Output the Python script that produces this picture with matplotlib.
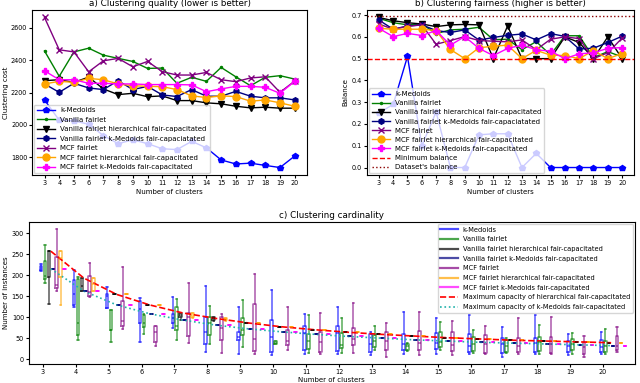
import matplotlib
matplotlib.use('Agg')
import matplotlib.pyplot as plt
from matplotlib.lines import Line2D

ks = list(range(3, 21))

names = ['k-Medoids', 'Vanilla fairlet', 'Vanilla fairlet hierarchical fair-capacitated',
         'Vanilla fairlet k-Medoids fair-capaciatated', 'MCF fairlet',
         'MCF fairlet hierarchical fair-capacitated', 'MCF fairlet k-Medoids fair-capacitated']
colors = ['blue', 'green', 'black', 'navy', 'purple', 'orange', 'magenta']
markers = ['p', '.', 'v', 'h', 'x', 'o', 'P']

# a) clustering cost
cost_kmedoids = [2155, 2030, 2025, 2005, 1935, 1885, 1908, 1885, 1853, 1848, 1899, 1859, 1784, 1759, 1764, 1750, 1737, 1808]
cost_vanilla = [2458, 2301, 2452, 2475, 2432, 2412, 2393, 2350, 2352, 2258, 2295, 2270, 2356, 2298, 2243, 2295, 2305, 2284]
cost_vanilla_hier = [2274, 2280, 2264, 2296, 2223, 2188, 2196, 2175, 2180, 2151, 2151, 2137, 2131, 2116, 2106, 2110, 2104, 2104]
cost_vanilla_kmed = [2254, 2202, 2258, 2229, 2219, 2274, 2219, 2239, 2186, 2176, 2219, 2178, 2178, 2208, 2178, 2168, 2168, 2155]
cost_mcf = [2665, 2465, 2452, 2329, 2397, 2412, 2360, 2393, 2330, 2309, 2309, 2325, 2280, 2268, 2291, 2298, 2202, 2272]
cost_mcf_hier = [2254, 2270, 2264, 2288, 2280, 2254, 2243, 2239, 2237, 2219, 2180, 2170, 2180, 2176, 2147, 2155, 2137, 2116]
cost_mcf_kmed = [2335, 2280, 2280, 2258, 2258, 2254, 2254, 2250, 2250, 2250, 2248, 2206, 2223, 2239, 2239, 2233, 2196, 2270]

# b) balance
bal_kmedoids = [0.25, 0.29, 0.51, 0.10, 0.255, 0.0, 0.0, 0.15, 0.155, 0.155, 0.0, 0.065, 0.0, 0.0, 0.0, 0.0, 0.0, 0.0]
bal_vanilla = [0.685, 0.665, 0.655, 0.659, 0.615, 0.632, 0.635, 0.644, 0.587, 0.589, 0.541, 0.578, 0.517, 0.605, 0.605, 0.505, 0.532, 0.508]
bal_vanilla_hier = [0.689, 0.674, 0.665, 0.659, 0.647, 0.655, 0.657, 0.655, 0.5, 0.65, 0.5, 0.5, 0.5, 0.6, 0.574, 0.5, 0.6, 0.5]
bal_vanilla_kmed = [0.677, 0.635, 0.65, 0.655, 0.629, 0.62, 0.632, 0.585, 0.597, 0.607, 0.613, 0.586, 0.615, 0.602, 0.544, 0.548, 0.574, 0.603]
bal_mcf = [0.659, 0.635, 0.648, 0.655, 0.566, 0.583, 0.601, 0.583, 0.58, 0.577, 0.586, 0.541, 0.589, 0.6, 0.592, 0.5, 0.527, 0.594]
bal_mcf_hier = [0.639, 0.635, 0.635, 0.635, 0.629, 0.542, 0.5, 0.55, 0.557, 0.562, 0.5, 0.538, 0.516, 0.514, 0.5, 0.537, 0.5, 0.523]
bal_mcf_kmed = [0.639, 0.601, 0.616, 0.606, 0.629, 0.562, 0.601, 0.547, 0.514, 0.547, 0.562, 0.541, 0.534, 0.5, 0.522, 0.527, 0.547, 0.551]
min_balance = 0.5
dataset_balance = 0.695

# c) cluster sizes per k: (whisker low, q1, median, q3, whisker high)
card_kmedoids = [(209, 212, 216, 221, 226), (125, 128, 155, 188, 212), (121, 122, 150, 156, 172),
                 (40, 86, 120, 138, 146), (74, 85, 97, 108, 148), (17, 37, 65, 100, 175),
                 (12, 45, 52, 65, 124), (9, 17, 52, 94, 164), (12, 21, 62, 78, 108),
                 (11, 19, 61, 78, 125), (9, 17, 35, 60, 65), (12, 21, 37, 60, 112),
                 (12, 25, 38, 63, 97), (11, 17, 30, 60, 104), (5, 15, 35, 50, 76),
                 (11, 17, 38, 50, 104), (9, 17, 30, 43, 59), (11, 17, 28, 45, 65)]
card_vanilla = [(181, 190, 197, 234, 271), (46, 57, 85, 190, 196), (40, 70, 70, 118, 118),
                (59, 76, 85, 104, 108), (46, 70, 78, 123, 144), (35, 57, 85, 100, 126),
                (29, 57, 70, 98, 140), (35, 36, 38, 42, 42), (15, 25, 42, 60, 104),
                (15, 26, 34, 63, 98), (22, 29, 43, 57, 80), (20, 22, 30, 35, 38),
                (21, 29, 40, 65, 89), (15, 19, 35, 53, 69), (15, 17, 30, 46, 50),
                (13, 19, 40, 53, 82), (13, 21, 35, 48, 63), (13, 17, 30, 43, 71)]
card_vanilla_hier = [(132, 196, 257, 258, 258), (162, 162, 175, 193, 193), (154, 154, 154, 154, 154),
                     (129, 129, 129, 129, 129), (93, 100, 105, 110, 110), (90, 92, 97, 100, 100),
                     (86, 86, 86, 86, 86), (77, 77, 77, 77, 77), (70, 70, 70, 70, 70),
                     (64, 64, 64, 64, 64), (59, 59, 59, 59, 59), (55, 55, 55, 55, 55),
                     (51, 51, 51, 51, 51), (48, 48, 48, 48, 48), (45, 45, 45, 45, 45),
                     (43, 43, 43, 43, 43), (41, 41, 41, 41, 41), (39, 39, 39, 39, 39)]
card_vanilla_kmed = [215, 162, 129, 108, 93, 81, 72, 65, 59, 54, 50, 46, 43, 40, 38, 36, 34, 32]
card_mcf = [(162, 170, 176, 244, 311), (148, 150, 160, 199, 228), (72, 80, 90, 138, 219),
            (30, 40, 65, 79, 80), (38, 54, 100, 110, 182), (14, 45, 75, 100, 108),
            (12, 20, 49, 132, 202), (22, 33, 43, 69, 124), (12, 18, 40, 65, 110),
            (15, 34, 47, 73, 133), (5, 21, 44, 65, 86), (9, 22, 38, 67, 112),
            (9, 20, 33, 65, 90), (11, 15, 35, 57, 80), (11, 17, 30, 50, 97),
            (11, 15, 35, 52, 101), (4, 12, 28, 40, 55), (17, 22, 32, 55, 77)]
card_mcf_hier = [(130, 196, 240, 258, 258), (162, 162, 180, 193, 193), (154, 154, 154, 154, 154),
                 (129, 129, 129, 129, 129), (98, 100, 105, 110, 110), (90, 92, 95, 98, 98),
                 (86, 86, 86, 86, 86), (77, 77, 77, 77, 77), (70, 70, 70, 70, 70),
                 (64, 64, 64, 64, 64), (59, 59, 59, 59, 59), (55, 55, 55, 55, 55),
                 (51, 51, 51, 51, 51), (48, 48, 48, 48, 48), (45, 45, 45, 45, 45),
                 (43, 43, 43, 43, 43), (41, 41, 41, 41, 41), (39, 39, 39, 39, 39)]
card_mcf_kmed = [215, 162, 129, 108, 93, 81, 72, 65, 59, 54, 50, 46, 43, 40, 38, 36, 34, 32]
max_cap_hier = [257, 193, 154, 129, 110, 97, 86, 77, 70, 64, 59, 55, 51, 48, 45, 43, 41, 39]
max_cap_kmed = [215, 162, 129, 108, 93, 81, 72, 65, 59, 54, 50, 46, 43, 40, 38, 36, 34, 32]

TICK = 4.7
LAB = 5.0
TIT = 6.3
LEG = 5.0

fig = plt.figure(figsize=(6.4, 3.83), dpi=100)

# ---- a) cost
ax1 = fig.add_axes([0.05, 0.543, 0.43, 0.431])
costs = [cost_kmedoids, cost_vanilla, cost_vanilla_hier, cost_vanilla_kmed, cost_mcf, cost_mcf_hier, cost_mcf_kmed]
for i in range(7):
    ms = 5 if markers[i] in ('o', 'P') else 4
    if markers[i] == '.':
        ms = 3
    ax1.plot(ks, costs[i], color=colors[i], marker=markers[i], lw=1, ms=ms, label=names[i])
ax1.set_xticks(ks)
ax1.set_yticks([1800, 2000, 2200, 2400, 2600])
ax1.tick_params(labelsize=TICK, length=2, pad=1.5)
ax1.set_title('a) Clustering quality (lower is better)', fontsize=TIT, pad=3)
ax1.set_xlabel('Number of clusters', fontsize=LAB, labelpad=2)
ax1.set_ylabel('Clustering cost', fontsize=LAB, labelpad=1.5)
ax1.legend(loc='lower left', fontsize=LEG, handlelength=2.6, borderaxespad=0.3, labelspacing=0.5)

# ---- b) balance
ax2 = fig.add_axes([0.573, 0.543, 0.418, 0.431])
bals = [bal_kmedoids, bal_vanilla, bal_vanilla_hier, bal_vanilla_kmed, bal_mcf, bal_mcf_hier, bal_mcf_kmed]
for i in range(7):
    ms = 5 if markers[i] in ('o', 'P') else 4
    if markers[i] == '.':
        ms = 3
    ax2.plot(ks, bals[i], color=colors[i], marker=markers[i], lw=1, ms=ms, label=names[i])
ax2.axhline(min_balance, color='red', ls='--', lw=1, label='Minimum balance')
ax2.axhline(dataset_balance, color='darkred', ls=':', lw=1, label="Dataset's balance")
ax2.set_xticks(ks)
ax2.tick_params(labelsize=TICK, length=2, pad=1.5)
ax2.set_title('b) Clustering fairness (higher is better)', fontsize=TIT, pad=3)
ax2.set_xlabel('Number of clusters', fontsize=LAB, labelpad=2)
ax2.set_ylabel('Balance', fontsize=LAB, labelpad=2)
ax2.legend(loc='lower left', fontsize=LEG, handlelength=2.6, borderaxespad=0.3, labelspacing=0.45)

# ---- c) cardinality
ax3 = fig.add_axes([0.045, 0.05, 0.947, 0.37])


def to_stats(rows):
    out = []
    for r in rows:
        if not isinstance(r, tuple):
            r = (r, r, r, r, r)
        out.append({'whislo': r[0], 'q1': r[1], 'med': r[2], 'q3': r[3], 'whishi': r[4], 'fliers': []})
    return out


cards = [card_kmedoids, card_vanilla, card_vanilla_hier, card_vanilla_kmed, card_mcf, card_mcf_hier, card_mcf_kmed]
offsets = [-0.05, 0.07, 0.19, 0.31, 0.43, 0.55, 0.67]
for i in range(7):
    pos = [k + offsets[i] for k in ks]
    st = dict(color=colors[i], lw=1.1, alpha=0.65)
    ax3.bxp(to_stats(cards[i]), positions=pos, widths=0.08, showfliers=False, manage_ticks=False,
            boxprops=st, whiskerprops=st, capprops=st, medianprops=st)
cap_x = [k + 0.25 for k in ks]
ax3.plot(cap_x, max_cap_hier, color='red', ls='--', lw=1.2)
ax3.plot(cap_x, max_cap_kmed, color='lightseagreen', ls=':', lw=1.2)
ax3.set_xlim(2.58, 20.97)
ax3.set_xticks(ks)
ax3.set_yticks([0, 50, 100, 150, 200, 250, 300])
ax3.tick_params(labelsize=TICK, length=2, pad=1.5)
ax3.set_title('c) Clustering cardinality', fontsize=TIT, pad=3)
ax3.set_xlabel('Number of clusters', fontsize=LAB, labelpad=2)
ax3.set_ylabel('Number of instances', fontsize=LAB, labelpad=2)

handles = [Line2D([], [], color=c, lw=1.6, alpha=0.7) for c in colors]
handles.append(Line2D([], [], color='red', ls='--', lw=1.2))
handles.append(Line2D([], [], color='lightseagreen', ls=':', lw=1.2))
labels3 = ['k-Medoids', 'Vanilla fairlet', 'Vanilla fairlet hierarchical fair-capacitated',
           'Vanilla fairlet k-Medoids fair-capacitated', 'MCF fairlet',
           'MCF fairlet hierarchical fair-capacitated', 'MCF fairlet k-Medoids fair-capacitated',
           'Maximum capacity of hierarchical fair-capacitated', 'Maximum capacity of k-Medoids fair-capacitated']
ax3.legend(handles, labels3, loc='upper right', fontsize=4.8, handlelength=2.6, borderaxespad=0.3,
           labelspacing=0.55)

fig.savefig('out.png', dpi=100)
